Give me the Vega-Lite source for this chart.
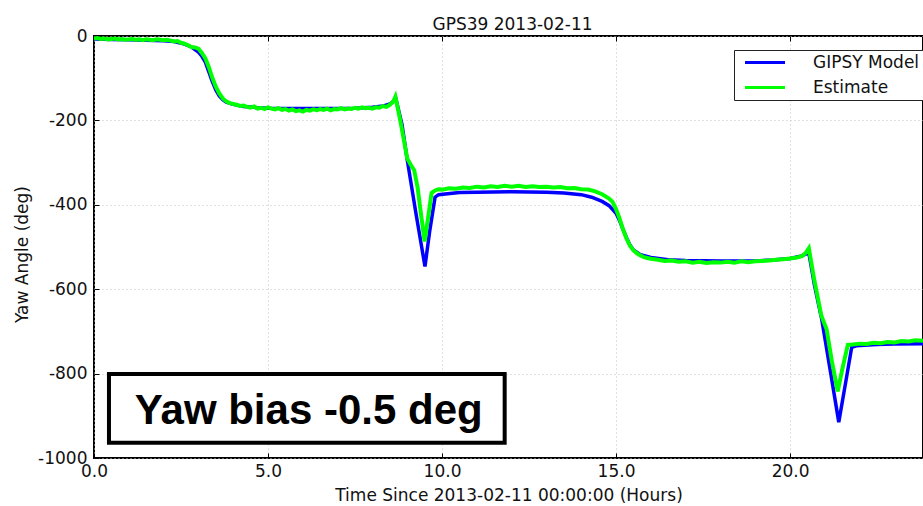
{
  "$schema": "https://vega.github.io/schema/vega-lite/v6.json",
  "width": 829,
  "height": 422,
  "autosize": {"type": "none"},
  "padding": {"left": 94, "top": 36, "right": 0, "bottom": 48},
  "background": "white",
  "config": {
    "view": {"stroke": "black", "strokeWidth": 2},
    "font": "DejaVu Sans",
    "axis": {
      "domain": false,
      "grid": true,
      "gridColor": "#c0c0c0",
      "gridDash": [1, 3],
      "gridWidth": 1,
      "tickColor": "black",
      "tickSize": -5,
      "tickWidth": 1,
      "labelFont": "DejaVu Sans",
      "labelFontSize": 17,
      "labelColor": "#111",
      "labelFlush": false,
      "labelOverlap": false,
      "titleFont": "DejaVu Sans",
      "titleFontSize": 17,
      "titleFontWeight": "normal",
      "titleColor": "#111"
    }
  },
  "title": {
    "text": "GPS39 2013-02-11",
    "font": "DejaVu Sans",
    "fontSize": 17,
    "fontWeight": "normal",
    "color": "#111",
    "offset": -7,
    "dx": 4
  },
  "datasets": {
    "yaw": [
      {"series": "GIPSY Model", "hours": 0.0, "yaw": -7},
      {"series": "GIPSY Model", "hours": 0.5, "yaw": -8},
      {"series": "GIPSY Model", "hours": 1.0, "yaw": -9},
      {"series": "GIPSY Model", "hours": 1.5, "yaw": -10},
      {"series": "GIPSY Model", "hours": 2.0, "yaw": -11},
      {"series": "GIPSY Model", "hours": 2.3, "yaw": -13},
      {"series": "GIPSY Model", "hours": 2.6, "yaw": -19},
      {"series": "GIPSY Model", "hours": 2.8, "yaw": -26},
      {"series": "GIPSY Model", "hours": 3.0, "yaw": -38},
      {"series": "GIPSY Model", "hours": 3.1, "yaw": -48},
      {"series": "GIPSY Model", "hours": 3.2, "yaw": -62},
      {"series": "GIPSY Model", "hours": 3.3, "yaw": -85},
      {"series": "GIPSY Model", "hours": 3.4, "yaw": -108},
      {"series": "GIPSY Model", "hours": 3.5, "yaw": -128},
      {"series": "GIPSY Model", "hours": 3.6, "yaw": -142},
      {"series": "GIPSY Model", "hours": 3.7, "yaw": -151},
      {"series": "GIPSY Model", "hours": 3.8, "yaw": -157},
      {"series": "GIPSY Model", "hours": 4.0, "yaw": -162},
      {"series": "GIPSY Model", "hours": 4.3, "yaw": -167},
      {"series": "GIPSY Model", "hours": 4.7, "yaw": -170},
      {"series": "GIPSY Model", "hours": 5.0, "yaw": -171},
      {"series": "GIPSY Model", "hours": 6.0, "yaw": -172},
      {"series": "GIPSY Model", "hours": 7.0, "yaw": -172},
      {"series": "GIPSY Model", "hours": 7.5, "yaw": -171},
      {"series": "GIPSY Model", "hours": 8.0, "yaw": -169},
      {"series": "GIPSY Model", "hours": 8.3, "yaw": -166},
      {"series": "GIPSY Model", "hours": 8.5, "yaw": -161},
      {"series": "GIPSY Model", "hours": 8.68, "yaw": -151},
      {"series": "GIPSY Model", "hours": 8.85, "yaw": -210},
      {"series": "GIPSY Model", "hours": 9.0, "yaw": -293},
      {"series": "GIPSY Model", "hours": 9.25, "yaw": -420},
      {"series": "GIPSY Model", "hours": 9.51, "yaw": -546},
      {"series": "GIPSY Model", "hours": 9.65, "yaw": -460},
      {"series": "GIPSY Model", "hours": 9.8, "yaw": -382},
      {"series": "GIPSY Model", "hours": 9.9, "yaw": -376},
      {"series": "GIPSY Model", "hours": 10.5, "yaw": -371},
      {"series": "GIPSY Model", "hours": 11.0, "yaw": -370},
      {"series": "GIPSY Model", "hours": 12.0, "yaw": -369},
      {"series": "GIPSY Model", "hours": 13.0, "yaw": -370},
      {"series": "GIPSY Model", "hours": 13.5, "yaw": -372},
      {"series": "GIPSY Model", "hours": 14.0, "yaw": -376},
      {"series": "GIPSY Model", "hours": 14.3, "yaw": -382},
      {"series": "GIPSY Model", "hours": 14.6, "yaw": -392},
      {"series": "GIPSY Model", "hours": 14.8, "yaw": -402},
      {"series": "GIPSY Model", "hours": 15.0, "yaw": -420},
      {"series": "GIPSY Model", "hours": 15.1, "yaw": -437},
      {"series": "GIPSY Model", "hours": 15.2, "yaw": -458},
      {"series": "GIPSY Model", "hours": 15.3, "yaw": -478},
      {"series": "GIPSY Model", "hours": 15.4, "yaw": -495},
      {"series": "GIPSY Model", "hours": 15.5, "yaw": -507},
      {"series": "GIPSY Model", "hours": 15.7, "yaw": -518},
      {"series": "GIPSY Model", "hours": 16.0, "yaw": -525},
      {"series": "GIPSY Model", "hours": 16.5, "yaw": -530},
      {"series": "GIPSY Model", "hours": 17.0, "yaw": -532},
      {"series": "GIPSY Model", "hours": 18.0, "yaw": -533},
      {"series": "GIPSY Model", "hours": 19.0, "yaw": -533},
      {"series": "GIPSY Model", "hours": 19.5, "yaw": -531},
      {"series": "GIPSY Model", "hours": 20.0, "yaw": -527},
      {"series": "GIPSY Model", "hours": 20.3, "yaw": -522},
      {"series": "GIPSY Model", "hours": 20.54, "yaw": -514},
      {"series": "GIPSY Model", "hours": 20.7, "yaw": -590},
      {"series": "GIPSY Model", "hours": 20.91, "yaw": -671},
      {"series": "GIPSY Model", "hours": 21.15, "yaw": -790},
      {"series": "GIPSY Model", "hours": 21.4, "yaw": -915},
      {"series": "GIPSY Model", "hours": 21.6, "yaw": -820},
      {"series": "GIPSY Model", "hours": 21.77, "yaw": -738},
      {"series": "GIPSY Model", "hours": 21.9, "yaw": -734},
      {"series": "GIPSY Model", "hours": 22.5, "yaw": -731},
      {"series": "GIPSY Model", "hours": 23.0, "yaw": -730},
      {"series": "GIPSY Model", "hours": 23.82, "yaw": -729},

      {"series": "Estimate", "hours": 0.0, "yaw": -6},
      {"series": "Estimate", "hours": 0.1, "yaw": -5},
      {"series": "Estimate", "hours": 0.2, "yaw": -7},
      {"series": "Estimate", "hours": 0.3, "yaw": -6},
      {"series": "Estimate", "hours": 0.4, "yaw": -8},
      {"series": "Estimate", "hours": 0.5, "yaw": -7},
      {"series": "Estimate", "hours": 0.6, "yaw": -6},
      {"series": "Estimate", "hours": 0.7, "yaw": -8},
      {"series": "Estimate", "hours": 0.8, "yaw": -7},
      {"series": "Estimate", "hours": 0.9, "yaw": -9},
      {"series": "Estimate", "hours": 1.0, "yaw": -8},
      {"series": "Estimate", "hours": 1.1, "yaw": -7},
      {"series": "Estimate", "hours": 1.2, "yaw": -9},
      {"series": "Estimate", "hours": 1.3, "yaw": -8},
      {"series": "Estimate", "hours": 1.4, "yaw": -10},
      {"series": "Estimate", "hours": 1.5, "yaw": -8},
      {"series": "Estimate", "hours": 1.6, "yaw": -9},
      {"series": "Estimate", "hours": 1.7, "yaw": -10},
      {"series": "Estimate", "hours": 1.8, "yaw": -8},
      {"series": "Estimate", "hours": 1.9, "yaw": -9},
      {"series": "Estimate", "hours": 2.0, "yaw": -10},
      {"series": "Estimate", "hours": 2.1, "yaw": -9},
      {"series": "Estimate", "hours": 2.2, "yaw": -11},
      {"series": "Estimate", "hours": 2.3, "yaw": -13},
      {"series": "Estimate", "hours": 2.4, "yaw": -12},
      {"series": "Estimate", "hours": 2.5, "yaw": -16},
      {"series": "Estimate", "hours": 2.6, "yaw": -18},
      {"series": "Estimate", "hours": 2.7, "yaw": -22},
      {"series": "Estimate", "hours": 2.8, "yaw": -26},
      {"series": "Estimate", "hours": 2.9, "yaw": -27},
      {"series": "Estimate", "hours": 3.0, "yaw": -30},
      {"series": "Estimate", "hours": 3.1, "yaw": -40},
      {"series": "Estimate", "hours": 3.2, "yaw": -53},
      {"series": "Estimate", "hours": 3.3, "yaw": -74},
      {"series": "Estimate", "hours": 3.4, "yaw": -99},
      {"series": "Estimate", "hours": 3.5, "yaw": -120},
      {"series": "Estimate", "hours": 3.6, "yaw": -136},
      {"series": "Estimate", "hours": 3.7, "yaw": -148},
      {"series": "Estimate", "hours": 3.8, "yaw": -155},
      {"series": "Estimate", "hours": 3.9, "yaw": -159},
      {"series": "Estimate", "hours": 4.0, "yaw": -161},
      {"series": "Estimate", "hours": 4.1, "yaw": -163},
      {"series": "Estimate", "hours": 4.2, "yaw": -166},
      {"series": "Estimate", "hours": 4.3, "yaw": -165},
      {"series": "Estimate", "hours": 4.4, "yaw": -168},
      {"series": "Estimate", "hours": 4.5, "yaw": -170},
      {"series": "Estimate", "hours": 4.6, "yaw": -167},
      {"series": "Estimate", "hours": 4.7, "yaw": -172},
      {"series": "Estimate", "hours": 4.8, "yaw": -170},
      {"series": "Estimate", "hours": 4.9, "yaw": -173},
      {"series": "Estimate", "hours": 5.0, "yaw": -169},
      {"series": "Estimate", "hours": 5.1, "yaw": -172},
      {"series": "Estimate", "hours": 5.2, "yaw": -174},
      {"series": "Estimate", "hours": 5.3, "yaw": -171},
      {"series": "Estimate", "hours": 5.4, "yaw": -175},
      {"series": "Estimate", "hours": 5.5, "yaw": -173},
      {"series": "Estimate", "hours": 5.6, "yaw": -177},
      {"series": "Estimate", "hours": 5.7, "yaw": -174},
      {"series": "Estimate", "hours": 5.8, "yaw": -178},
      {"series": "Estimate", "hours": 5.9, "yaw": -176},
      {"series": "Estimate", "hours": 6.0, "yaw": -179},
      {"series": "Estimate", "hours": 6.1, "yaw": -175},
      {"series": "Estimate", "hours": 6.2, "yaw": -177},
      {"series": "Estimate", "hours": 6.3, "yaw": -174},
      {"series": "Estimate", "hours": 6.4, "yaw": -176},
      {"series": "Estimate", "hours": 6.5, "yaw": -173},
      {"series": "Estimate", "hours": 6.6, "yaw": -175},
      {"series": "Estimate", "hours": 6.7, "yaw": -172},
      {"series": "Estimate", "hours": 6.8, "yaw": -176},
      {"series": "Estimate", "hours": 6.9, "yaw": -173},
      {"series": "Estimate", "hours": 7.0, "yaw": -174},
      {"series": "Estimate", "hours": 7.1, "yaw": -171},
      {"series": "Estimate", "hours": 7.2, "yaw": -174},
      {"series": "Estimate", "hours": 7.3, "yaw": -172},
      {"series": "Estimate", "hours": 7.4, "yaw": -173},
      {"series": "Estimate", "hours": 7.5, "yaw": -170},
      {"series": "Estimate", "hours": 7.6, "yaw": -172},
      {"series": "Estimate", "hours": 7.7, "yaw": -169},
      {"series": "Estimate", "hours": 7.8, "yaw": -171},
      {"series": "Estimate", "hours": 7.9, "yaw": -170},
      {"series": "Estimate", "hours": 8.0, "yaw": -172},
      {"series": "Estimate", "hours": 8.1, "yaw": -169},
      {"series": "Estimate", "hours": 8.2, "yaw": -170},
      {"series": "Estimate", "hours": 8.3, "yaw": -166},
      {"series": "Estimate", "hours": 8.4, "yaw": -168},
      {"series": "Estimate", "hours": 8.5, "yaw": -163},
      {"series": "Estimate", "hours": 8.6, "yaw": -155},
      {"series": "Estimate", "hours": 8.66, "yaw": -144},
      {"series": "Estimate", "hours": 8.8, "yaw": -200},
      {"series": "Estimate", "hours": 9.0, "yaw": -290},
      {"series": "Estimate", "hours": 9.1, "yaw": -305},
      {"series": "Estimate", "hours": 9.2, "yaw": -318},
      {"series": "Estimate", "hours": 9.3, "yaw": -360},
      {"series": "Estimate", "hours": 9.4, "yaw": -425},
      {"series": "Estimate", "hours": 9.5, "yaw": -487},
      {"series": "Estimate", "hours": 9.6, "yaw": -430},
      {"series": "Estimate", "hours": 9.7, "yaw": -372},
      {"series": "Estimate", "hours": 9.8, "yaw": -366},
      {"series": "Estimate", "hours": 9.9, "yaw": -363},
      {"series": "Estimate", "hours": 10.0, "yaw": -364},
      {"series": "Estimate", "hours": 10.2, "yaw": -361},
      {"series": "Estimate", "hours": 10.4, "yaw": -362},
      {"series": "Estimate", "hours": 10.6, "yaw": -359},
      {"series": "Estimate", "hours": 10.8, "yaw": -360},
      {"series": "Estimate", "hours": 11.0, "yaw": -357},
      {"series": "Estimate", "hours": 11.2, "yaw": -359},
      {"series": "Estimate", "hours": 11.4, "yaw": -356},
      {"series": "Estimate", "hours": 11.6, "yaw": -358},
      {"series": "Estimate", "hours": 11.8, "yaw": -355},
      {"series": "Estimate", "hours": 12.0, "yaw": -357},
      {"series": "Estimate", "hours": 12.2, "yaw": -355},
      {"series": "Estimate", "hours": 12.4, "yaw": -358},
      {"series": "Estimate", "hours": 12.6, "yaw": -356},
      {"series": "Estimate", "hours": 12.8, "yaw": -358},
      {"series": "Estimate", "hours": 13.0, "yaw": -357},
      {"series": "Estimate", "hours": 13.2, "yaw": -359},
      {"series": "Estimate", "hours": 13.4, "yaw": -358},
      {"series": "Estimate", "hours": 13.6, "yaw": -361},
      {"series": "Estimate", "hours": 13.8, "yaw": -360},
      {"series": "Estimate", "hours": 14.0, "yaw": -363},
      {"series": "Estimate", "hours": 14.2, "yaw": -364},
      {"series": "Estimate", "hours": 14.4, "yaw": -368},
      {"series": "Estimate", "hours": 14.6, "yaw": -375},
      {"series": "Estimate", "hours": 14.8, "yaw": -385},
      {"series": "Estimate", "hours": 14.9, "yaw": -393},
      {"series": "Estimate", "hours": 15.0, "yaw": -410},
      {"series": "Estimate", "hours": 15.1, "yaw": -432},
      {"series": "Estimate", "hours": 15.2, "yaw": -458},
      {"series": "Estimate", "hours": 15.3, "yaw": -480},
      {"series": "Estimate", "hours": 15.4, "yaw": -497},
      {"series": "Estimate", "hours": 15.5, "yaw": -508},
      {"series": "Estimate", "hours": 15.6, "yaw": -515},
      {"series": "Estimate", "hours": 15.7, "yaw": -520},
      {"series": "Estimate", "hours": 15.8, "yaw": -524},
      {"series": "Estimate", "hours": 15.9, "yaw": -526},
      {"series": "Estimate", "hours": 16.0, "yaw": -528},
      {"series": "Estimate", "hours": 16.2, "yaw": -530},
      {"series": "Estimate", "hours": 16.4, "yaw": -533},
      {"series": "Estimate", "hours": 16.6, "yaw": -532},
      {"series": "Estimate", "hours": 16.8, "yaw": -535},
      {"series": "Estimate", "hours": 17.0, "yaw": -534},
      {"series": "Estimate", "hours": 17.2, "yaw": -537},
      {"series": "Estimate", "hours": 17.4, "yaw": -535},
      {"series": "Estimate", "hours": 17.6, "yaw": -538},
      {"series": "Estimate", "hours": 17.8, "yaw": -536},
      {"series": "Estimate", "hours": 18.0, "yaw": -537},
      {"series": "Estimate", "hours": 18.2, "yaw": -535},
      {"series": "Estimate", "hours": 18.4, "yaw": -537},
      {"series": "Estimate", "hours": 18.6, "yaw": -534},
      {"series": "Estimate", "hours": 18.8, "yaw": -536},
      {"series": "Estimate", "hours": 19.0, "yaw": -534},
      {"series": "Estimate", "hours": 19.2, "yaw": -533},
      {"series": "Estimate", "hours": 19.4, "yaw": -532},
      {"series": "Estimate", "hours": 19.6, "yaw": -530},
      {"series": "Estimate", "hours": 19.8, "yaw": -529},
      {"series": "Estimate", "hours": 20.0, "yaw": -527},
      {"series": "Estimate", "hours": 20.2, "yaw": -525},
      {"series": "Estimate", "hours": 20.35, "yaw": -521},
      {"series": "Estimate", "hours": 20.45, "yaw": -514},
      {"series": "Estimate", "hours": 20.54, "yaw": -503},
      {"series": "Estimate", "hours": 20.7, "yaw": -580},
      {"series": "Estimate", "hours": 20.9, "yaw": -663},
      {"series": "Estimate", "hours": 21.05, "yaw": -695},
      {"series": "Estimate", "hours": 21.2, "yaw": -770},
      {"series": "Estimate", "hours": 21.37, "yaw": -842},
      {"series": "Estimate", "hours": 21.5, "yaw": -790},
      {"series": "Estimate", "hours": 21.66, "yaw": -732},
      {"series": "Estimate", "hours": 21.8, "yaw": -731},
      {"series": "Estimate", "hours": 22.0, "yaw": -729},
      {"series": "Estimate", "hours": 22.2, "yaw": -730},
      {"series": "Estimate", "hours": 22.4, "yaw": -727},
      {"series": "Estimate", "hours": 22.6, "yaw": -728},
      {"series": "Estimate", "hours": 22.8, "yaw": -725},
      {"series": "Estimate", "hours": 23.0, "yaw": -726},
      {"series": "Estimate", "hours": 23.2, "yaw": -723},
      {"series": "Estimate", "hours": 23.4, "yaw": -724},
      {"series": "Estimate", "hours": 23.6, "yaw": -721},
      {"series": "Estimate", "hours": 23.82, "yaw": -722}
    ]
  },
  "resolve": {"axis": {"x": "independent"}},
  "layer": [
    {
      "data": {"name": "yaw"},
      "transform": [{"filter": "datum.series === 'GIPSY Model'"}],
      "mark": {"type": "line", "strokeWidth": 3.5, "clip": true},
      "encoding": {
        "x": {
          "field": "hours",
          "type": "quantitative",
          "scale": {"domain": [0, 23.82], "nice": false, "zero": false},
          "axis": {
            "values": [0, 5, 10, 15, 20],
            "format": ".1f",
            "title": "Time Since 2013-02-11 00:00:00 (Hours)",
            "labelPadding": 10,
            "titlePadding": 8
          }
        },
        "y": {
          "field": "yaw",
          "type": "quantitative",
          "scale": {"domain": [-1000, 0], "nice": false},
          "axis": {
            "values": [-1000, -800, -600, -400, -200, 0],
            "labelExpr": "'' + datum.value",
            "title": "Yaw Angle (deg)",
            "labelPadding": 12,
            "titleX": -72,
            "titleY": 218,
            "titleBaseline": "middle"
          }
        },
        "color": {
          "field": "series",
          "type": "nominal",
          "scale": {"domain": ["GIPSY Model", "Estimate"], "range": ["#0000ff", "#00ff00"]},
          "legend": {
            "orient": "none",
            "legendX": 640,
            "legendY": 14,
            "title": null,
            "fillColor": "white",
            "strokeColor": "#222",
            "padding": 4,
            "symbolType": "M-0.3,0H7.7",
            "symbolSize": 100,
            "symbolStrokeWidth": 3,
            "labelFont": "DejaVu Sans",
            "labelFontSize": 17,
            "labelColor": "#111",
            "labelOffset": 58,
            "rowPadding": 7
          }
        }
      }
    },
    {
      "data": {"name": "yaw"},
      "transform": [{"filter": "datum.series === 'Estimate'"}],
      "mark": {"type": "line", "strokeWidth": 4, "clip": true},
      "encoding": {
        "x": {"field": "hours", "type": "quantitative", "axis": null},
        "y": {"field": "yaw", "type": "quantitative"},
        "color": {"field": "series", "type": "nominal"}
      }
    },
    {
      "data": {"values": [{}]},
      "mark": {"type": "rect", "fill": "white", "stroke": "black", "strokeWidth": 4},
      "encoding": {
        "x": {
          "datum": 0.43,
          "type": "quantitative",
          "axis": {"orient": "top", "values": [5, 10, 15, 20], "labels": false, "title": null, "grid": false}
        },
        "x2": {"datum": 11.8},
        "y": {"datum": -801, "type": "quantitative"},
        "y2": {"datum": -964}
      }
    },
    {
      "data": {"values": [{}]},
      "mark": {"type": "text", "font": "Liberation Sans", "fontWeight": "bold", "fontSize": 42, "align": "center", "baseline": "alphabetic", "color": "black"},
      "encoding": {
        "x": {"datum": 6.17, "type": "quantitative", "axis": null},
        "y": {"datum": -920, "type": "quantitative"},
        "text": {"value": "Yaw bias -0.5 deg"}
      }
    }
  ]
}
